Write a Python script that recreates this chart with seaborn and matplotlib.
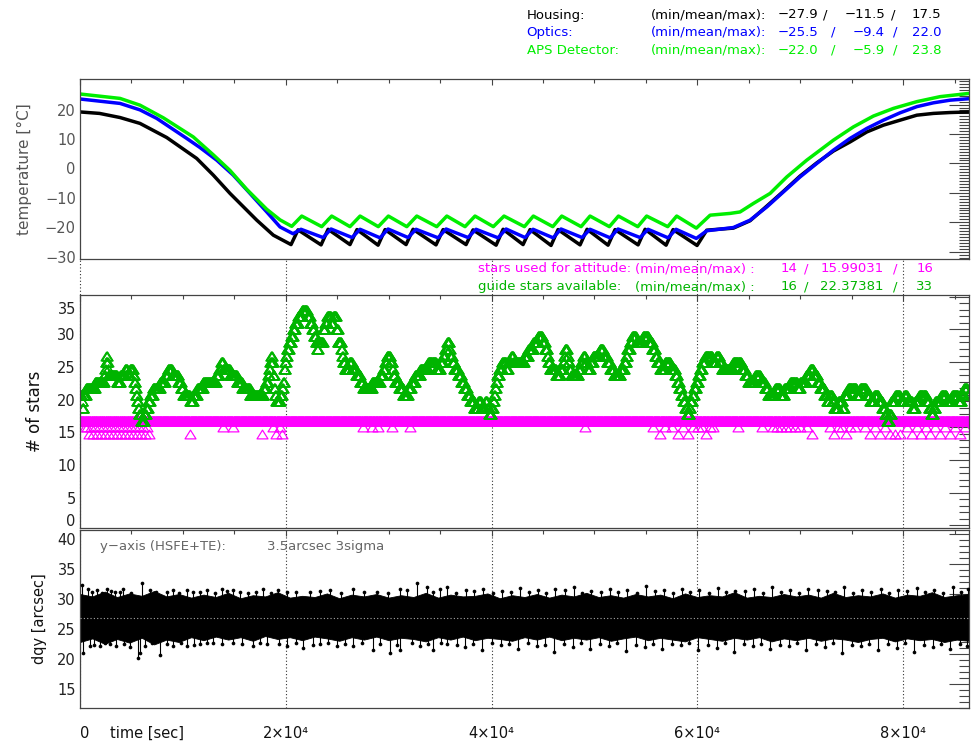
import numpy as np
import pandas as pd
import matplotlib
matplotlib.use("Agg")
import matplotlib.pyplot as plt
from matplotlib.path import Path
from matplotlib.ticker import MultipleLocator
from matplotlib.transforms import ScaledTranslation
import seaborn as sns

# ---------------------------------------------------------------- data
# temperature knots: time [s] and temperature [deg C]
housing_t = [0, 1900, 3890, 5830, 8430, 11340, 12960, 14580, 17180, 18790, 20510,
             21190, 23430, 24110, 26240, 26920, 28970, 29650, 31690, 32370, 34600,
             35290, 37520, 38200, 40440, 41120, 43060, 43740, 45780, 46460, 48600,
             49280, 51320, 52000, 54240, 54920, 56960, 57640, 59970,
             60910, 63500, 65120, 66750, 68360, 69980, 71610, 73220, 74840, 76470,
             78080, 79700, 81330, 82940, 84560, 86400]
housing_T = [17.5, 17.0, 15.6, 13.6, 8.8, 1.7, -4.0, -10.2, -19.3, -24.4, -27.6,
             -22.6, -27.7, -22.4, -27.6, -22.5, -27.8, -22.5, -27.6, -22.4, -27.7,
             -22.5, -27.6, -22.6, -27.8, -22.4, -27.6, -22.5, -27.9, -22.5, -27.7,
             -22.4, -27.8, -22.5, -27.7, -22.4, -27.8, -22.5, -27.9,
             -22.7, -22.0, -19.5, -14.5, -9.5, -4.3, 0.2, 4.2, 7.3, 10.7,
             13.0, 14.7, 16.4, 17.0, 17.3, 17.5]

optics_t = [0, 3890, 5830, 7460, 10370, 11660, 13290, 14900, 16520, 18150, 19440, 20700,
            21480, 23620, 24400, 26440, 27220, 29160, 29940, 31880, 32660, 34800,
            35580, 37710, 38490, 40630, 41410, 43250, 44030, 45980, 46750, 48790,
            49570, 51520, 52290, 54430, 55210, 57150, 57930, 59900,
            60910, 63500, 65120, 66750, 68360, 69980, 71610, 73220, 74840, 76470,
            78080, 79700, 81330, 82940, 84560, 86400]
optics_T = [21.9, 20.4, 18.2, 15.3, 8.5, 5.4, 1.1, -4.0, -10.2, -16.5, -21.6, -23.9,
            -22.4, -25.2, -22.3, -25.2, -22.4, -25.3, -22.3, -25.2, -22.4, -25.3,
            -22.3, -25.2, -22.4, -25.3, -22.3, -25.2, -22.4, -25.3, -22.3, -25.2,
            -22.4, -25.3, -22.3, -25.2, -22.4, -25.3, -22.4, -25.5,
            -22.9, -21.8, -19.3, -14.8, -9.7, -4.6, 0.0, 4.5, 8.5, 11.9,
            14.7, 17.2, 19.3, 20.6, 21.5, 22.0]

aps_t = [0, 3890, 5830, 8100, 11010, 12960, 14580, 16200, 18150, 19440, 20580,
         21550, 23490, 24460, 26240, 27220, 28990, 29970, 31760, 32730, 34670,
         35650, 37420, 38390, 40170, 41210, 43190, 44060, 45950, 46820, 48700,
         49570, 51450, 52330, 54210, 55070, 57120, 57990, 59900,
         61240, 63180, 64150, 65450, 67070, 68690, 70630, 73220, 75160, 77110,
         79050, 81330, 83590, 86400]
aps_T = [23.6, 22.1, 19.8, 15.5, 9.0, 2.9, -2.4, -8.8, -15.6, -19.2, -21.4,
         -17.9, -21.5, -17.9, -21.5, -17.9, -21.5, -17.9, -21.5, -17.9, -21.5,
         -17.9, -21.5, -17.9, -21.5, -17.9, -21.5, -17.9, -21.5, -17.9, -21.5,
         -17.9, -21.5, -17.9, -21.5, -17.9, -21.5, -17.9, -22.0,
         -17.6, -17.0, -16.5, -13.6, -10.2, -4.6, 1.1, 7.9, 12.4, 16.1,
         18.7, 21.0, 22.7, 23.8]

temp_names = ["Housing:", "Optics:", "APS Detector:"]
temp_stats = [(-27.9, -11.5, 17.5), (-25.5, -9.4, 22.0), (-22.0, -5.9, 23.8)]

# guide stars available: level changes (start time [s], number of stars)
guide_t = [0, 150, 240, 340, 580, 1460, 2330, 2430, 2500, 2560, 2620, 2690, 2750,
           3600, 3890, 4370, 4570, 4860, 5150, 5250, 5350, 5440, 5540, 5640, 5730,
           5930, 6220, 6420, 6610, 6800, 7100, 7780, 8260, 8550, 8940, 9530, 9820,
           10010, 10690, 10980, 11370, 11960, 13220, 13510, 13710, 13900, 14580,
           15260, 15750, 16520, 17790, 18080, 18270, 18370, 18470, 18570, 18660,
           18760, 18860, 18950, 19050, 19440, 19630, 19730, 19830, 19930, 20020,
           20120, 20310, 20510, 20700, 20900, 21190, 21580, 22060, 22360, 22550,
           22740, 22940, 23040, 23130, 23620, 23810, 24010, 24400, 24590, 24880,
           25080, 25370, 25470, 25560, 25760, 26150, 26440, 26830, 27220, 27510,
           28380, 29160, 29450, 29650, 29840, 30130, 30330, 30420, 30620, 31010,
           31400, 31880, 32170, 32560, 33050, 33830, 34600, 34990, 35280, 35480,
           35670, 35870, 35960, 36160, 36350, 36740, 37030, 37320, 37620, 37910,
           38300, 38690, 38980, 39370, 39560, 39750, 39950, 40140, 40240, 40340,
           40440, 40530, 40730, 41020, 41410, 41600, 41890, 42090, 43160, 43550,
           44030, 44520, 44910, 45200, 45390, 45490, 45680, 46270, 46660, 46950,
           47050, 47140, 47340, 47430, 47530, 47730, 48410, 48700, 48890, 49090,
           49280, 49570, 49860, 50540, 50840, 51220, 51520, 51900, 52490, 52880,
           53070, 53170, 53460, 53650, 54040, 54720, 55210, 55600, 55890, 56080,
           56380, 56860, 57350, 57830, 58030, 58220, 58420, 58610, 58810, 59000,
           59190, 59290, 59490, 59680, 59880, 60070, 60260, 60460, 60750, 61430,
           61820, 62110, 62400, 63470, 64250, 64640, 64930, 65610, 66100, 66580,
           66870, 67550, 68040, 68430, 69010, 69690, 69980, 70570, 70960, 71250,
           71640, 71930, 72320, 72610, 72800, 73090, 73290, 73680, 74070, 74260,
           74650, 75430, 75820, 76400, 76790, 77180, 77570, 77950, 78250, 78440,
           78630, 78830, 79220, 79700, 80090, 80380, 80870, 81160, 81550, 82230,
           82520, 82720, 82910, 83110, 83690, 84180, 84760, 85340, 85630, 85920,
           86220]
guide_n = [20, 19, 18, 20, 21, 22, 23, 24, 25, 26, 25, 24, 23,
           22, 23, 24, 23, 24, 23, 22, 21, 20, 19, 18, 17,
           16, 17, 18, 19, 20, 21, 22, 23, 24, 23, 22, 21,
           20, 19, 20, 21, 22, 23, 24, 25, 24, 23,
           22, 21, 20, 21, 22, 23, 24, 25, 26, 25,
           23, 21, 20, 19, 20, 21, 22, 24, 25, 26,
           27, 28, 29, 30, 31, 32, 33, 32, 31, 30,
           29, 28, 27, 28, 30, 31, 32, 31, 32, 30,
           28, 27, 26, 25, 24, 25, 24, 23, 22, 21,
           22, 23, 24, 25, 26, 25, 24, 23, 22, 21,
           20, 21, 22, 23, 24, 25, 24, 25, 26, 27,
           28, 27, 26, 25, 24, 23, 22, 21, 20, 19,
           18, 19, 18, 19, 18, 17, 18, 19, 20, 21,
           22, 23, 24, 25, 24, 25, 26, 25, 26, 27,
           28, 29, 28, 27, 26, 25, 24, 23, 24, 25,
           26, 27, 26, 25, 24, 23, 24, 25, 26, 25,
           24, 25, 26, 27, 26, 25, 24, 23, 24, 25,
           26, 27, 28, 29, 28, 29, 28, 27, 26, 25,
           24, 25, 24, 23, 22, 21, 20, 19, 18, 17,
           18, 19, 20, 21, 22, 23, 24, 25, 26, 25,
           26, 25, 24, 25, 24, 23, 22, 23, 22, 21,
           20, 21, 20, 21, 22, 21, 22, 23, 24, 23,
           22, 21, 20, 19, 20, 19, 18, 19, 18, 20,
           21, 20, 21, 20, 19, 20, 19, 18, 17, 16,
           17, 19, 20, 19, 20, 19, 18, 19, 20, 19,
           18, 17, 18, 19, 20, 19, 20, 19, 20, 21,
           20]

# stars used for attitude: nominal level and the samples that dropped below it
used_nominal = 16
used_dip_t = [490, 680, 870, 1070, 1260, 1460, 1650, 1850, 2040, 2240, 2430, 2620,
              2820, 3010, 3210, 3400, 3600, 3790, 3990, 4180, 4370, 4570, 4760,
              4960, 5150, 5350, 5540, 5740, 5930, 6120, 6320, 6510, 6710, 10690,
              13900, 14870, 17690, 18760, 19050, 19440, 19630, 27510, 28380, 28970,
              30330, 32080, 49090, 55700, 56380, 56860, 57540, 58130, 58610, 59100,
              59580, 60070, 60460, 60850, 61240, 61530, 63960, 66290, 67360, 67750,
              68140, 68620, 69010, 69500, 69980, 70660, 71150, 72900, 73290, 73680,
              74070, 74460, 74840, 75330, 76300, 76790, 77270, 77760, 78250, 78730,
              79220, 79700, 80380, 80870, 81360, 81750, 82230, 82620, 83110, 83590,
              84080, 84560, 85050, 85540, 86020]
used_dip_n = [15, 15, 14, 15, 14, 15, 14, 15, 14, 15, 14, 15,
              14, 15, 14, 15, 14, 15, 14, 15, 14, 15, 14,
              15, 14, 15, 14, 15, 14, 15, 14, 15, 14, 14,
              15, 15, 14, 15, 14, 15, 14, 15, 15, 15,
              15, 15, 15, 15, 14, 15, 15, 14, 15, 14,
              15, 15, 15, 14, 15, 15, 15, 15, 15, 15,
              15, 15, 15, 15, 15, 15, 14, 15, 14, 15,
              15, 14, 15, 15, 15, 14, 15, 14, 15, 14,
              14, 14, 15, 14, 15, 14, 15, 14, 15, 14,
              15, 14, 15, 14, 15]
star_rows = [("stars used for attitude:", 14, 15.99031, 16),
             ("guide stars available:", 16, 22.37381, 33)]

# dqy attitude residual [arcsec]: mean, edges of the dense core every 1200 s,
# and the outlying samples beyond it
dqy_mean = 26.0
core_step = 1200
core_hi = [30.0, 29.6, 30.4, 29.5, 30.1, 29.7, 30.5, 29.6, 30.0, 29.4,
           29.9, 29.5, 30.2, 29.3, 29.8, 29.6, 30.3, 29.4, 29.7, 29.5,
           30.1, 29.3, 29.9, 29.6, 30.0, 29.4, 29.8, 29.5, 30.2, 29.4,
           29.9, 29.6, 29.7, 30.1, 29.3, 29.8, 29.5, 30.0, 29.4, 29.9,
           29.6, 30.2, 29.5, 29.8, 29.4, 30.0, 29.6, 29.9, 29.3, 30.1,
           29.5, 29.8, 29.6, 30.3, 29.4, 29.7, 29.5, 30.0, 29.6, 29.9,
           29.4, 30.2, 29.5, 29.8, 29.6, 30.1, 29.4, 29.9, 29.7, 30.3,
           29.5, 29.8, 30.0]
core_lo = [22.0, 22.6, 21.7, 22.5, 21.9, 22.7, 21.6, 22.4, 22.0, 22.8,
           22.3, 22.9, 22.4, 22.8, 22.2, 23.0, 22.5, 22.8, 22.3, 22.9,
           22.6, 22.2, 22.8, 22.4, 22.9, 22.3, 22.7, 22.5, 22.1, 22.8,
           22.4, 22.9, 22.3, 22.7, 22.5, 22.2, 22.8, 22.4, 22.9, 22.3,
           22.7, 22.4, 22.8, 22.2, 22.6, 22.9, 22.3, 22.7, 22.4, 22.1,
           22.8, 22.5, 22.2, 22.7, 22.4, 22.8, 22.1, 22.6, 22.3, 22.7,
           22.2, 22.6, 22.4, 22.0, 22.5, 22.7, 22.1, 22.6, 22.3, 22.5,
           22.0, 22.4, 22.2]
spike_hi_t = [160, 810, 1620, 2590, 3400, 4210, 5990, 6800, 8420, 9070, 11010, 12310,
              13770, 14900, 15550, 17820, 19280, 20090, 22360, 24300, 26570, 28840,
              31100, 32730, 33700, 34990, 35640, 37500, 39200, 41000, 42800, 44500,
              46200, 48000, 49700, 51500, 53200, 55000, 56800, 58500, 60200, 62000,
              63700, 65500, 67300, 69000, 70800, 72600, 74300, 76000, 77800, 79500,
              81300, 83000, 84800, 86300,
              1200, 2100, 3000, 3900, 5000, 7400, 9600, 10400, 11700, 13100, 14300,
              16300, 17100, 18600, 21000, 23300, 25400, 27600, 29900, 31800, 34300,
              36500, 38300, 40100, 41900, 43600, 45300, 47100, 48800, 50600, 52300,
              54100, 55900, 57600, 59300, 61100, 62800, 64600, 66400, 68100, 69900,
              71700, 73400, 75100, 76900, 78600, 80400, 82100, 83900, 85600]
spike_hi_v = [31.5, 30.9, 30.7, 30.8, 30.4, 30.9, 31.8, 30.7, 30.4, 30.7, 30.4, 30.7,
              30.8, 30.7, 30.4, 30.9, 30.7, 30.4, 30.4, 30.7, 30.8, 30.4,
              30.9, 31.8, 31.2, 30.9, 31.2, 30.6, 30.9, 30.5, 31.0, 30.6,
              30.8, 31.1, 30.5, 30.9, 30.6, 31.3, 30.7, 30.9, 30.6, 31.0,
              30.5, 30.8, 31.1, 30.6, 30.9, 30.5, 31.2, 30.7, 30.9, 30.6,
              31.0, 30.7, 31.1, 30.8,
              30.4, 30.2, 30.5, 30.3, 30.1, 30.4, 30.2, 30.6, 30.3, 30.2, 30.5,
              30.1, 30.4, 30.2, 30.3, 30.5, 30.1, 30.4, 30.2, 30.6, 30.3,
              30.2, 30.5, 30.1, 30.4, 30.3, 30.2, 30.6, 30.1, 30.4, 30.3,
              30.2, 30.5, 30.1, 30.4, 30.2, 30.3, 30.5, 30.1, 30.4, 30.2,
              30.6, 30.3, 30.1, 30.4, 30.2, 30.5, 30.3, 30.2, 30.4]
spike_lo_t = [320, 970, 1940, 2920, 4860, 5670, 5830, 7780, 9070, 10370, 11660, 12960,
              14900, 16850, 18150, 20090, 21710, 23330, 24950, 26570, 28510, 30130,
              31100, 33050, 34340, 35640, 37400, 39100, 40900, 42600, 44400, 46100,
              47900, 49600, 51400, 53100, 54900, 56600, 58400, 60100, 61900, 63600,
              65400, 67100, 68900, 70600, 72400, 74100, 75900, 77600, 79400, 81100,
              82900, 84600, 86200,
              1400, 2400, 3500, 4300, 6300, 7000, 8500, 9800, 11100, 12300, 13800,
              15700, 17500, 19300, 21000, 22600, 24100, 25800, 27400, 29200, 30800,
              32300, 33800, 35100, 36600, 38200, 40000, 41700, 43500, 45200, 47000,
              48700, 50500, 52200, 54000, 55700, 57500, 59200, 61000, 62700, 64500,
              66200, 68000, 69700, 71500, 73200, 75000, 76700, 78500, 80200, 82000,
              83700, 85500]
spike_lo_v = [20.1, 21.4, 21.3, 21.6, 21.1, 19.3, 20.1, 19.8, 21.4, 21.3, 21.6, 21.8,
              21.8, 21.4, 21.6, 21.4, 21.0, 21.6, 21.4, 21.3, 20.7, 20.1,
              20.7, 21.4, 20.7, 21.6, 21.2, 20.6, 21.5, 20.9, 21.3, 20.4,
              21.1, 20.8, 21.4, 20.5, 21.2, 20.9, 21.5, 20.7, 21.0, 20.3,
              21.3, 20.8, 21.4, 20.6, 21.1, 20.2, 21.3, 20.7, 21.0, 20.4,
              21.2, 20.8, 21.3,
              21.5, 21.8, 21.3, 21.7, 21.4, 21.9, 21.6, 21.8, 21.5, 21.9, 21.7,
              21.6, 21.9, 21.7, 21.8, 21.5, 21.9, 21.6, 21.8, 21.7, 21.5,
              21.9, 21.6, 21.8, 21.5, 21.7, 21.9, 21.6, 21.8, 21.5, 21.7,
              21.9, 21.6, 21.8, 21.5, 21.7, 21.6, 21.9, 21.5, 21.8, 21.6,
              21.7, 21.5, 21.9, 21.6, 21.8, 21.5, 21.7, 21.6, 21.8, 21.5,
              21.7, 21.6]

x_major = [0, 20000, 40000, 60000, 80000]
x_labels = ["0", "2×10⁴", "4×10⁴", "6×10⁴", "8×10⁴"]

# ---------------------------------------------------------------- style
sns.set_style("white")
plt.rcParams["font.family"] = ["DejaVu Sans"]
plt.rcParams["axes.edgecolor"] = "#444444"
plt.rcParams["axes.linewidth"] = 0.9

W, H = 971, 747
fig = plt.figure(figsize=(W / 100, H / 100), dpi=100)


def px_box(left, top, right, bottom):
    return [left / W, 1 - bottom / H, (right - left) / W, (bottom - top) / H]


def ftext(x, y, s, **kw):
    kw.setdefault("fontsize", 9.5)
    fig.text(x / W, 1 - y / H, s, va="center", **kw)


def shift_ylabels(ax, offsets):
    fig.canvas.draw()
    for tick in ax.yaxis.get_major_ticks():
        dy = offsets.get(round(tick.get_loc(), 3), offsets["default"])
        lab = tick.label1
        lab.set_transform(lab.get_transform()
                          + ScaledTranslation(0, -dy / 100, fig.dpi_scale_trans))


ax_t = fig.add_axes(px_box(80, 79, 969, 259))
ax_s = fig.add_axes(px_box(80, 295, 969, 528))
ax_d = fig.add_axes(px_box(80, 530, 969, 708))

for ax in (ax_t, ax_s, ax_d):
    ax.set_xlim(0, 86400)
    ax.xaxis.set_major_locator(MultipleLocator(20000))
    ax.xaxis.set_minor_locator(MultipleLocator(5000))
    ax.tick_params(which="both", direction="in", top=True, right=True,
                   labeltop=False, labelright=False, color="#444444",
                   width=0.8, labelsize=10.5)
    ax.tick_params(axis="x", which="major", length=4.5)
    ax.tick_params(axis="x", which="minor", length=3)
    ax.tick_params(axis="y", which="major", length=14.4, pad=3)
    ax.tick_params(axis="y", which="minor", length=7.2)

# ---------------------------------------------------------------- temperatures
temp = pd.concat([
    pd.DataFrame({"t": housing_t, "T": housing_T, "unit": "Housing"}),
    pd.DataFrame({"t": optics_t, "T": optics_T, "unit": "Optics"}),
    pd.DataFrame({"t": aps_t, "T": aps_T, "unit": "APS"}),
])
temp_colors = {"Housing": "#000000", "Optics": "#0000ff", "APS": "#00ee00"}
for unit, col in temp_colors.items():
    sns.lineplot(data=temp[temp["unit"] == unit], x="t", y="T", ax=ax_t, color=col,
                 linewidth=2.5, estimator=None, errorbar=None, sort=False)
ax_t.set_ylim(-32.5, 28.7)
ax_t.yaxis.set_major_locator(MultipleLocator(10))
ax_t.yaxis.set_minor_locator(MultipleLocator(1))
ax_t.tick_params(labelbottom=False, labelcolor="#555555")
ax_t.set_xlabel("")
ax_t.set_ylabel("temperature [°C]", fontsize=11, color="#555555", va="center")
ax_t.yaxis.set_label_coords(-0.0624, 0.5)

header_colors = ["#000000", "#0000ff", "#00ee00"]
header_y = [15, 32.3, 50]
slash1_x = [825, 833, 833]
slash2_x = [893, 895, 895]
for name, (lo, mean, hi), col, y, s1, s2 in zip(temp_names, temp_stats, header_colors,
                                               header_y, slash1_x, slash2_x):
    ftext(526.7, y, name, color=col)
    ftext(651, y, "(min/mean/max):", color=col)
    ftext(818, y, f"{lo:.1f}".replace("-", "−"), color=col, ha="right")
    ftext(s1, y, "/", color=col, ha="center")
    ftext(885, y, f"{mean:.1f}".replace("-", "−"), color=col, ha="right")
    ftext(s2, y, "/", color=col, ha="center")
    ftext(941.5, y, f"{hi:.1f}".replace("-", "−"), color=col, ha="right")

# ---------------------------------------------------------------- star counts
t_grid = np.arange(0, 86400, 20)
guide = np.asarray(guide_n)[np.searchsorted(guide_t, t_grid, side="right") - 1]
used = np.full(t_grid.shape, used_nominal)
used[np.searchsorted(t_grid, used_dip_t)] = used_dip_n

tri = Path([(0, 0.8), (-1, -0.8), (1, -0.8), (0, 0.8)],
           [Path.MOVETO, Path.LINETO, Path.LINETO, Path.CLOSEPOLY])
magenta, green = "#ff00ff", "#00b400"

for xv in x_major:
    ax_s.axvline(xv, ymin=0, ymax=1.155, clip_on=False, color="#333333",
                 lw=0.8, ls=(0, (1, 2)), zorder=0)
for series, col in ((used, magenta), (guide, green)):
    sns.lineplot(x=t_grid, y=series, ax=ax_s, estimator=None, errorbar=None,
                 sort=False, linestyle="", marker=tri, markersize=7.9,
                 markerfacecolor="none", markeredgecolor=col,
                 markeredgewidth=0.85, color=col)
ax_s.set_ylim(-0.41, 35.27)
ax_s.yaxis.set_major_locator(MultipleLocator(5))
ax_s.yaxis.set_minor_locator(MultipleLocator(1))
ax_s.tick_params(labelbottom=False, labelcolor="#222222")
ax_s.set_xlabel("")
ax_s.set_ylabel("# of stars", fontsize=12, color="#111111", va="center")
ax_s.yaxis.set_label_coords(-0.0506, 0.5)

for (label, lo, mean, hi), col, y in zip(star_rows, (magenta, green), (269, 286.7)):
    ftext(477.7, y, label, color=col)
    ftext(635, y, "(min/mean/max) :", color=col)
    ftext(797, y, f"{lo}", color=col, ha="right")
    ftext(806, y, "/", color=col, ha="center")
    ftext(883.5, y, f"{mean:.5f}", color=col, ha="right")
    ftext(895, y, "/", color=col, ha="center")
    ftext(933, y, f"{hi}", color=col, ha="right")

# ---------------------------------------------------------------- dqy residuals
core_t = np.arange(len(core_hi)) * core_step
for xv in x_major:
    ax_d.axvline(xv, color="#333333", lw=0.8, ls=(0, (1, 2)), zorder=0)
ax_d.fill_between(core_t, core_lo, core_hi, color="black", lw=0.6,
                  edgecolor="black", zorder=2)
ax_d.vlines(spike_hi_t, dqy_mean, spike_hi_v, color="black", lw=0.8, zorder=2)
ax_d.vlines(spike_lo_t, dqy_mean, spike_lo_v, color="black", lw=0.8, zorder=2)
sns.scatterplot(x=spike_hi_t + spike_lo_t, y=spike_hi_v + spike_lo_v, ax=ax_d,
                s=7, color="black", linewidth=0, zorder=3)
ax_d.axhline(dqy_mean, color="#aaaaaa", lw=0.8, ls=(0, (1, 2)), zorder=4)
ax_d.set_ylim(11.0, 40.67)
ax_d.yaxis.set_major_locator(MultipleLocator(5))
ax_d.yaxis.set_minor_locator(MultipleLocator(1))
ax_d.set_xticks(x_major)
ax_d.set_xticklabels(x_labels)
ax_d.tick_params(axis="x", which="major", pad=13, labelcolor="#111111")
ax_d.tick_params(axis="y", labelcolor="#222222")
ax_d.set_xlabel("")
ax_d.set_ylabel("dqy [arcsec]", fontsize=10.5, color="#111111", va="center")
ax_d.yaxis.set_label_coords(-0.0456, 0.5)
ftext(100, 546.7, "y−axis (HSFE+TE):", color="#666666")
ftext(266.7, 546.7, "3.5arcsec 3sigma", color="#666666")
ftext(110, 733, "time [sec]", color="#111111", fontsize=10.5)

# tick label placement
shift_ylabels(ax_t, {"default": 5})
shift_ylabels(ax_s, {"default": 5, 0.0: -5, 35.0: 11})
shift_ylabels(ax_d, {"default": 4.5})
first = ax_d.xaxis.get_major_ticks()[0].label1
first.set_transform(first.get_transform()
                    + ScaledTranslation(5 / 100, 0, fig.dpi_scale_trans))

fig.savefig("out.png", dpi=100)
